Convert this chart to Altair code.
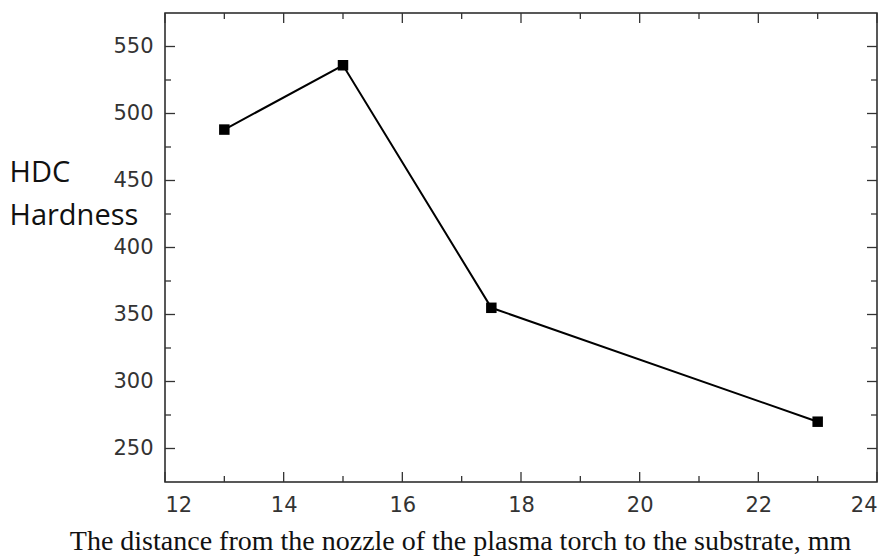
import altair as alt
import pandas as pd

distance = [13, 15, 17.5, 23]
hardness = [488, 536, 355, 270]

major_x = [12, 14, 16, 18, 20, 22, 24]
minor_x = [13, 15, 17, 19, 21, 23]
major_y = [250, 300, 350, 400, 450, 500, 550]
minor_y = [275, 325, 375, 425, 475, 525]

W, H = 712, 469
MAJ, MIN = 10, 6

df = pd.DataFrame({"x": distance, "y": hardness})
xs = alt.Scale(domain=[12, 24], nice=False, zero=False)
ys = alt.Scale(domain=[225, 575], nice=False, zero=False)

x_axis = alt.Axis(
    values=major_x, ticks=False, grid=False, domain=False,
    labelFont="DejaVu Sans", labelFontSize=21, labelColor="#333333",
    labelPadding=12, format="d",
    title="The distance from the nozzle of the plasma torch to the substrate, mm",
    titleFont="Liberation Serif", titleFontSize=28, titleFontWeight="normal",
    titleColor="#111111", titleX=295, titleY=67, titleAlign="center",
    titleBaseline="alphabetic",
)
y_axis = alt.Axis(
    values=major_y, ticks=False, grid=False, domain=False,
    labelFont="DejaVu Sans", labelFontSize=21, labelColor="#333333",
    labelPadding=12,
    title=["HDC", "Hardness"], titleAngle=0, titleAlign="left",
    titleFont="Open Sans", titleFontSize=29, titleFontWeight="normal",
    titleColor="#111111", titleX=-156, titleY=159, titleBaseline="middle",
    titleLineHeight=43,
)

line = alt.Chart(df).mark_line(color="black", strokeWidth=2).encode(
    x=alt.X("x:Q", scale=xs, axis=x_axis),
    y=alt.Y("y:Q", scale=ys, axis=y_axis),
)
pts = alt.Chart(df).mark_point(shape="square", filled=True, color="black", size=110, opacity=1).encode(
    x=alt.X("x:Q", scale=xs),
    y=alt.Y("y:Q", scale=ys),
)

def yticks(vals, length):
    d = pd.DataFrame({"v": vals})
    left = alt.Chart(d).mark_rule(color="#333", strokeWidth=1.3).encode(
        y=alt.Y("v:Q", scale=ys), x=alt.value(0), x2=alt.value(length))
    right = alt.Chart(d).mark_rule(color="#333", strokeWidth=1.3).encode(
        y=alt.Y("v:Q", scale=ys), x=alt.value(W), x2=alt.value(W - length))
    return [left, right]

def xticks(vals, length):
    d = pd.DataFrame({"v": vals})
    top = alt.Chart(d).mark_rule(color="#333", strokeWidth=1.3).encode(
        x=alt.X("v:Q", scale=xs), y=alt.value(0), y2=alt.value(length))
    bot = alt.Chart(d).mark_rule(color="#333", strokeWidth=1.3).encode(
        x=alt.X("v:Q", scale=xs), y=alt.value(H), y2=alt.value(H - length))
    return [top, bot]

layers = [line, pts] + yticks(major_y, MAJ) + yticks(minor_y, MIN) + xticks(major_x, MAJ) + xticks(minor_x, MIN)

chart = alt.layer(*layers).properties(
    width=W, height=H,
    autosize=alt.AutoSizeParams(type="none"),
    padding={"left": 165, "top": 13, "right": 16, "bottom": 75},
    background="white",
).configure_view(stroke="#222222", strokeWidth=1.5)

chart.save("out.html", embed_options={"renderer": "svg", "actions": False})
